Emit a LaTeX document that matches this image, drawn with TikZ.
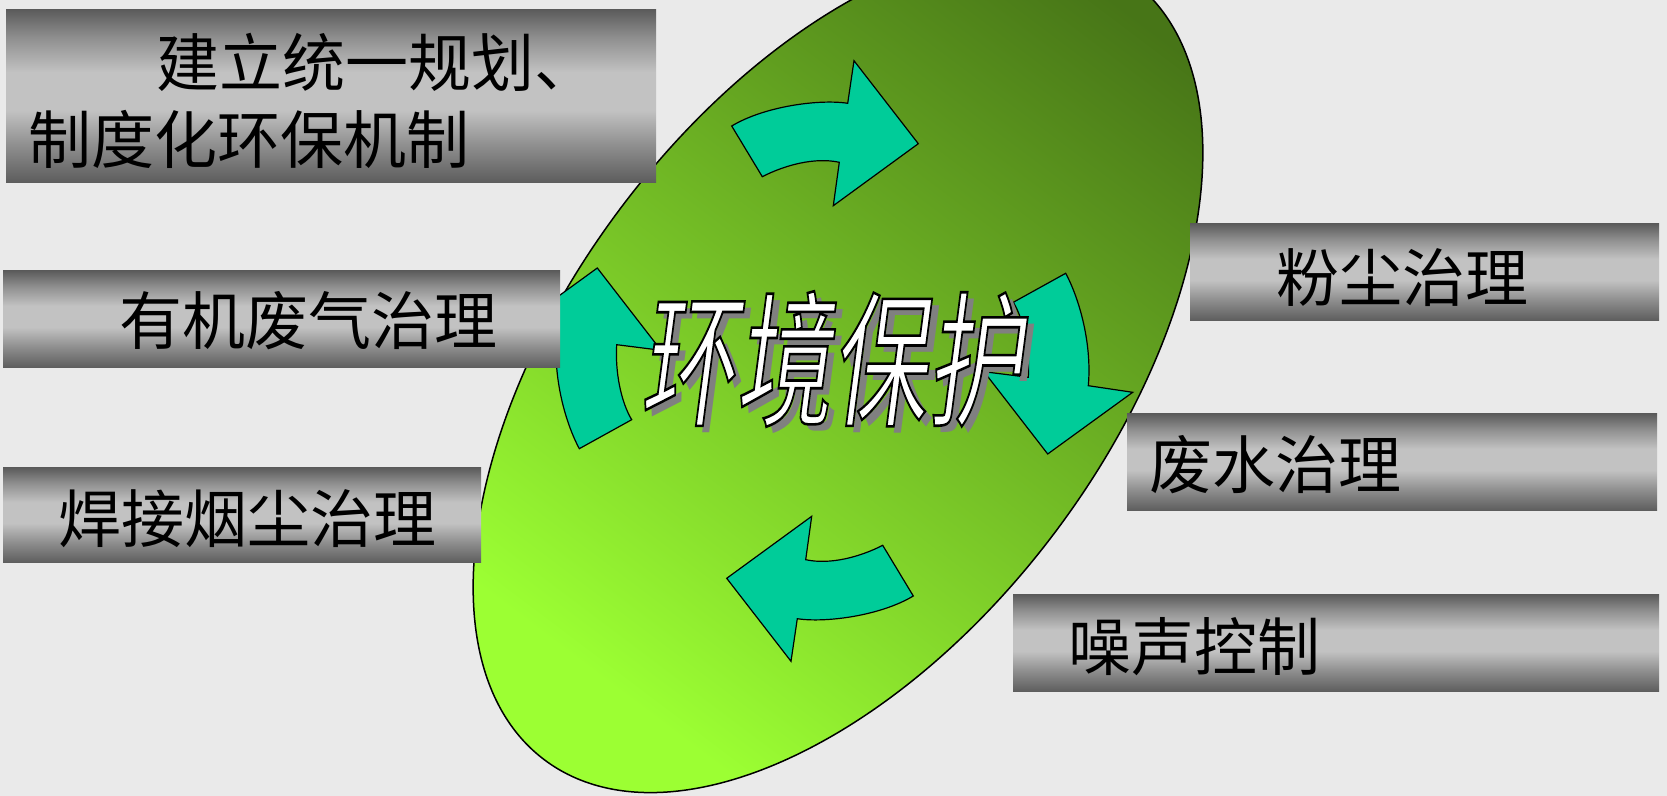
\documentclass[tikz,border=0pt]{standalone}
\usepackage{fontspec}
\usepackage{graphicx}
\newfontfamily\cjk{Noto Sans CJK SC}
\newfontfamily\bigcjk[FakeSlant=0.2]{Noto Sans CJK SC}
\usetikzlibrary{shapes.geometric}
\definecolor{bgc}{HTML}{EAEAEA}
\definecolor{grbright}{HTML}{9CFF33}
\definecolor{grdark}{HTML}{477517}
\definecolor{arrowc}{HTML}{00CC99}
\definecolor{bdark}{HTML}{5C5C5C}
\definecolor{bmid}{HTML}{8F8F8F}
\definecolor{blight}{HTML}{C2C2C2}
\definecolor{shadowgray}{HTML}{808080}
\pgfdeclareverticalshading{boxgrad}{100bp}{color(0bp)=(bdark); color(25bp)=(bdark); color(36bp)=(bmid); color(46bp)=(blight); color(57bp)=(blight); color(67bp)=(bmid); color(75bp)=(bdark); color(100bp)=(bdark)}
\tikzset{
  boxsty/.style={rectangle, inner sep=0, outer sep=0, anchor=north west, shade, shading=boxgrad, draw=none},
  boxtext/.style={inner sep=0, anchor=west, font=\fontsize{31.5pt}{38.5pt}\selectfont\cjk, text=black},
  arrowsty/.style={fill=arrowc, draw=black, line width=0.6pt, line join=miter},
  bigtext/.style={inner sep=0, font=\fontsize{73pt}{80pt}\selectfont\bigcjk}
}
\newcommand\titletext{\scalebox{0.655}[1]{环境保护}}
\newcommand\outlinedtitle{%
  \rlap{\smash{\hspace*{3.5pt}\raisebox{-3.5pt}{\textcolor{shadowgray}{\titletext}}}}%
  \special{pdf:literal direct 0 0 0 RG 1.3 w 2 Tr}\titletext\special{pdf:literal direct 0 Tr}}
\begin{document}
\begin{tikzpicture}[x=0.5pt,y=-0.5pt]
\useasboundingbox (0,0) rectangle (1667,796);
\clip (0,0) rectangle (1667,796);
\fill[bgc] (0,0) rectangle (1667,796);
% oval
\node[ellipse, minimum width=488pt, minimum height=271pt, inner sep=0, rotate=53,
      draw=black, line width=0.75pt, top color=grdark, bottom color=grbright, shading angle=-37] (oval) at (838,370) {};
% arrows
\path[arrowsty] (731.7,126) -- (762.3,176.7) .. controls (785,165) and (815,157) .. (839.3,162.3)
   -- (833.3,205.7) -- (918.3,143.7) -- (854,60.7) -- (847.7,103.3)
   .. controls (820,99) and (765,106) .. (731.7,126) -- cycle;
\path[arrowsty] (1013.3,302.3) -- (1065.7,273.3) .. controls (1080,300) and (1092,345) .. (1088.3,385.7)
   -- (1132.7,392.3) -- (1047.7,454) -- (984,371.7) -- (1028.3,377.3)
   .. controls (1030,350) and (1024,320) .. (1013.3,302.3) -- cycle;
\begin{scope}[rotate around={180:(822.5,361)}]
\path[arrowsty] (731.7,126) -- (762.3,176.7) .. controls (785,165) and (815,157) .. (839.3,162.3)
   -- (833.3,205.7) -- (918.3,143.7) -- (854,60.7) -- (847.7,103.3)
   .. controls (820,99) and (765,106) .. (731.7,126) -- cycle;
\path[arrowsty] (1013.3,302.3) -- (1065.7,273.3) .. controls (1080,300) and (1092,345) .. (1088.3,385.7)
   -- (1132.7,392.3) -- (1047.7,454) -- (984,371.7) -- (1028.3,377.3)
   .. controls (1030,350) and (1024,320) .. (1013.3,302.3) -- cycle;
\end{scope}
% boxes
\node[boxsty, minimum width=325pt, minimum height=86.5pt] (b1) at (6,10) {};
\node[boxsty, minimum width=278.5pt, minimum height=48.5pt] (b2) at (3,271) {};
\node[boxsty, minimum width=239pt, minimum height=47.5pt] (b3) at (3,468) {};
\node[boxsty, minimum width=234.5pt, minimum height=48.5pt] (b4) at (1190,224) {};
\node[boxsty, minimum width=265pt, minimum height=48.5pt] (b5) at (1127,414) {};
\node[boxsty, minimum width=323pt, minimum height=48.5pt] (b6) at (1013,595) {};
% box texts
\node[boxtext, align=left] (t1) at (28,101) {\hspace*{2.03em}建立统一规划、\\制度化环保机制};
\node[boxtext] (t2) at (119,321) {有机废气治理};
\node[boxtext] (t3) at (58,519) {焊接烟尘治理};
\node[boxtext] (t4) at (1276,278) {粉尘治理};
\node[boxtext] (t5) at (1149,465) {废水治理};
\node[boxtext] (t6) at (1068,647) {噪声控制};
% title
\node[bigtext, text=white] (title) at (831,359) {\outlinedtitle};
\end{tikzpicture}
\end{document}
